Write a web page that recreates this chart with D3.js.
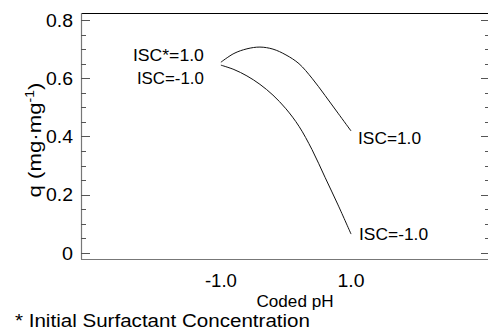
<!DOCTYPE html>
<html>
<head>
<meta charset="utf-8">
<script src="https://cdn.jsdelivr.net/npm/d3@7"></script>
<style>
  body { margin: 0; background: #fff; }
  svg { display: block; font-family: "Liberation Sans", Arial, sans-serif; }
</style>
</head>
<body>
<svg id="chart" width="488" height="331"></svg>
<script>
// coded pH positions
const phPoints = [-1.0, -0.8, -0.6, -0.4, -0.2, 0.0, 0.2, 0.4, 0.6, 0.8, 1.0];
const qHigh = [0.655, 0.685, 0.701, 0.707, 0.700, 0.680, 0.650, 0.600, 0.541, 0.480, 0.419];
const qLow  = [0.645, 0.630, 0.608, 0.579, 0.542, 0.495, 0.435, 0.355, 0.260, 0.165, 0.065];
const yTicks = [0, 0.2, 0.4, 0.6, 0.8];
const xTicks = [-1, 1];
const xTickLabels = ["-1.0", "1.0"];

const svg = d3.select("#chart"),
      margin = { top: 13, right: -1, bottom: 72, left: 81 },
      width = +svg.attr("width") - margin.left - margin.right,
      height = +svg.attr("height") - margin.top - margin.bottom;

const g = svg.append("g").attr("transform", `translate(${margin.left},${margin.top})`);

const x = d3.scaleLinear().domain([-3.15, 3.12]).range([0, width]);
const y = d3.scaleLinear().domain([-0.0206, 0.824]).range([height, 0]);

// frame: top black, left/bottom grey
g.append("line").attr("x1", 0).attr("x2", width).attr("y1", 0.5).attr("y2", 0.5)
  .attr("stroke", "#000").attr("stroke-width", 1.2);
g.append("line").attr("x1", 0.5).attr("x2", 0.5).attr("y1", 0).attr("y2", height)
  .attr("stroke", "#777").attr("stroke-width", 1.2);
g.append("line").attr("x1", 0).attr("x2", width).attr("y1", height + 0.5).attr("y2", height + 0.5)
  .attr("stroke", "#777").attr("stroke-width", 1.2);

// ticks every 0.05 on both sides, pointing inward
const minor = d3.range(0, 0.8001, 0.05);
minor.forEach(v => {
  const isMajor = Math.abs(v * 5 - Math.round(v * 5)) < 1e-6;
  const yy = Math.round(y(v)) + 0.5;
  g.append("line").attr("x1", 0).attr("x2", isMajor ? 9 : 5)
    .attr("y1", yy).attr("y2", yy).attr("stroke", "#555");
  g.append("line").attr("x1", width).attr("x2", width - (isMajor ? 8 : 4))
    .attr("y1", yy).attr("y2", yy).attr("stroke", "#555");
});

g.selectAll(".ylab").data(yTicks).enter().append("text")
  .attr("class", "ylab")
  .attr("x", -8)
  .attr("y", d => y(d) + 6.5)
  .attr("text-anchor", "end")
  .style("font-size", "18.5px")
  .attr("textLength", d => d === 0 ? 11 : 27)
  .attr("lengthAdjust", "spacingAndGlyphs")
  .text(d => d === 0 ? "0" : d3.format(".1f")(d));

g.selectAll(".xlab").data(xTicks).enter().append("text")
  .attr("class", "xlab")
  .attr("x", d => x(d))
  .attr("y", height + 28)
  .attr("text-anchor", "middle")
  .style("font-size", "18.5px")
  .attr("textLength", (d, i) => i === 0 ? 32 : 27)
  .attr("lengthAdjust", "spacingAndGlyphs")
  .text((d, i) => xTickLabels[i]);

svg.append("text")
  .attr("x", 295)
  .attr("y", 307)
  .attr("text-anchor", "middle")
  .style("font-size", "16px")
  .attr("textLength", 77)
  .attr("lengthAdjust", "spacingAndGlyphs")
  .text("Coded pH");

const yl = svg.append("text")
  .attr("transform", "translate(41,140) rotate(-90) scale(1.17,1)")
  .attr("text-anchor", "middle")
  .style("font-size", "19px");
yl.append("tspan").text("q (mg\u00b7mg");
yl.append("tspan").attr("dy", -7).style("font-size", "12px").text("-1");
yl.append("tspan").attr("dy", 7).text(")");

svg.append("text")
  .attr("x", 15)
  .attr("y", 327)
  .style("font-size", "17.5px")
  .attr("textLength", 295)
  .attr("lengthAdjust", "spacingAndGlyphs")
  .text("* Initial Surfactant Concentration");

const line = d3.line()
  .x((d, i) => x(phPoints[i]))
  .y(d => y(d))
  .curve(d3.curveCatmullRom);

[qHigh, qLow].forEach(s => {
  g.append("path")
    .attr("d", line(s))
    .attr("fill", "none")
    .attr("stroke", "#111")
    .attr("stroke-width", 1);
});

const lab = (tx, ty, anchor, len, str) => g.append("text")
  .attr("x", tx).attr("y", ty)
  .attr("text-anchor", anchor)
  .style("font-size", "17px")
  .attr("textLength", len)
  .attr("lengthAdjust", "spacingAndGlyphs")
  .text(str);

lab(x(-1) - 17, y(qHigh[0]) - 1, "end", 71, "ISC*=1.0");
lab(x(-1) - 17, y(qLow[0]) + 19, "end", 67, "ISC=-1.0");
lab(x(1) + 7, y(qHigh[qHigh.length - 1]) + 13, "start", 63, "ISC=1.0");
lab(x(1) + 8, y(qLow[qLow.length - 1]) + 6, "start", 69, "ISC=-1.0");
</script>
</body>
</html>
